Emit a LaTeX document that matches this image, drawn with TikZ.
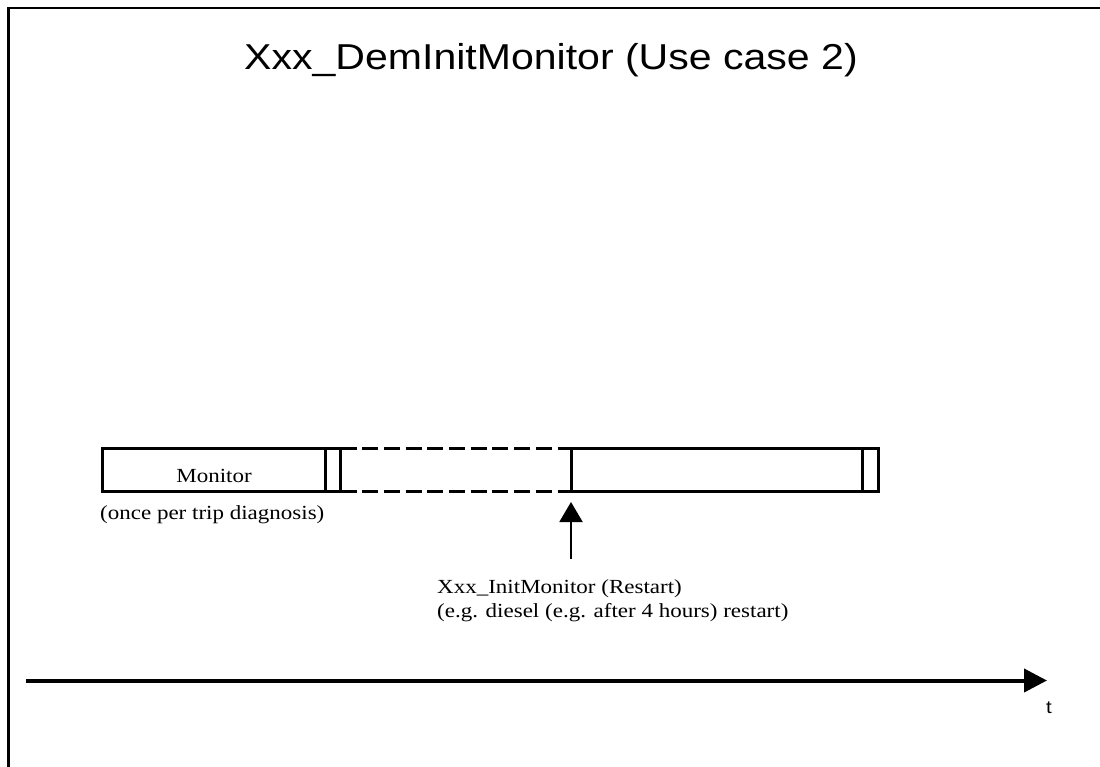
\documentclass[tikz,border=0pt]{standalone}
\usepackage{fontspec}
\setmainfont{Liberation Serif}[FakeStretch=1.15]
\newfontfamily\titlefont{Liberation Sans}[FakeStretch=1.14]
\usetikzlibrary{arrows.meta}
\tikzset{
  boxline/.style={line width=3pt, line cap=rect},
  dashline/.style={line width=3pt, dash pattern=on 16pt off 5.7pt},
  txt/.style={inner sep=0pt, font=\fontsize{20}{24}\selectfont},
  uparrow/.style={line width=2pt, -{Triangle[width=23pt,length=20pt]}},
  axisarrow/.style={line width=4pt, -{Triangle[width=23pt,length=23pt]}},
}
\begin{document}
\begin{tikzpicture}[x=1pt,y=-1pt]
\useasboundingbox (0,0) rectangle (1100,767);
% frame
\draw[line width=2.5pt] (8.7,767) -- (8.7,7.8) -- (1100,7.8);
% title
\node[inner sep=0pt, anchor=base, font=\titlefont\fontsize{36}{40}\selectfont] (title) at (551,70) {Xxx\_DemInitMonitor (Use case 2)};
% boxes
\draw[boxline] (102.5,448.7) rectangle (325.5,491.7);
\draw[boxline] (325.5,448.7) rectangle (340.5,491.7);
\draw[dashline] (340.5,448.7) -- (571,448.7);
\draw[dashline] (340.5,491.7) -- (571,491.7);
\draw[boxline] (571,448.7) rectangle (878.5,491.7);
\draw[boxline] (862.5,448.7) -- (862.5,491.7);
\node[txt, anchor=base] (monitor) at (214,482.7) {Monitor};
\node[txt, anchor=base west] (once) at (100,519) {(once per trip diagnosis)};
% restart arrow
\coordinate (foot) at (571,559);
\coordinate (tip) at (571,502);
\draw[uparrow] (foot) -- (tip);
\node[txt, anchor=base west] (restart1) at (437,593) {Xxx\_InitMonitor (Restart)};
\node[txt, anchor=base west] (restart2) at (437,617) {(e.g. diesel (e.g. after 4 hours) restart)};
% time axis
\coordinate (axstart) at (26,680.5);
\coordinate (axend) at (1047,680.5);
\draw[axisarrow] (axstart) -- (axend);
\node[inner sep=0pt, anchor=base, font=\titlefont\fontsize{18}{20}\selectfont] (t) at (1049,713) {t};
\end{tikzpicture}
\end{document}
